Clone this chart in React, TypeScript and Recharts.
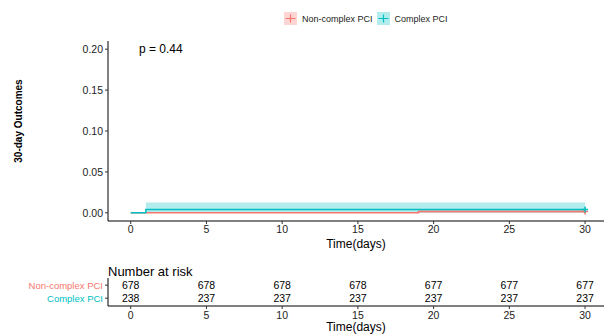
import React from 'react';
import {
  ComposedChart,
  Area,
  Line,
  Scatter,
  LabelList,
  XAxis,
  YAxis,
} from 'recharts';

const RED = '#F8766D';
const TEAL = '#00BFC4';
const FONT = '"Liberation Sans", Arial, sans-serif';

// Kaplan-Meier style step curves (cumulative incidence)
const nonComplexTimes = [0, 19, 30];
const nonComplexEst = [0, 0.0015, 0.0015];
const nonComplexUpper = [0, 0.0045, 0.0045];

const complexTimes = [0, 1, 30];
const complexEst = [0, 0.0042, 0.0042];
const complexUpper = [0, 0.0125, 0.0125];

// number at risk table
const riskTimes = [0, 5, 10, 15, 20, 25, 30];
const nonComplexRisk = [678, 678, 678, 678, 677, 677, 677];
const complexRisk = [238, 237, 237, 237, 237, 237, 237];

const xTicks = [0, 5, 10, 15, 20, 25, 30];
const yTicks = [0, 0.05, 0.1, 0.15, 0.2];
const groups = ['Non-complex PCI', 'Complex PCI'];

const toCurve = (times: number[], est: number[], upper: number[]) =>
  times.map((t, i) => ({ t, y: est[i], ci: [0, upper[i]] }));

const nonComplexData = toCurve(nonComplexTimes, nonComplexEst, nonComplexUpper);
const complexData = toCurve(complexTimes, complexEst, complexUpper);

const nonComplexRows = riskTimes.map((t, i) => ({ t, row: 2, n: nonComplexRisk[i] }));
const complexRows = riskTimes.map((t, i) => ({ t, row: 1, n: complexRisk[i] }));

const censorDot = (color: string, last: number) => (props: any) => {
  const { cx, cy, index } = props;
  if (index !== last) return <g key={`d${index}`} />;
  return (
    <path
      key={`d${index}`}
      d={`M${cx - 3},${cy}H${cx + 3}M${cx},${cy - 3}V${cy + 3}`}
      stroke={color}
      strokeWidth={1.5}
    />
  );
};

const RiskTick = (props: any) => {
  const { x, y, payload } = props;
  const label = payload.value === 2 ? groups[0] : groups[1];
  const color = payload.value === 2 ? RED : TEAL;
  return (
    <text x={x} y={y} dy={3.5} textAnchor="end" fontSize={9.5} fill={color} fontFamily={FONT}>
      {label}
    </text>
  );
};

const LegendIcon = ({ color }: { color: string }) => (
  <svg width={13} height={13} style={{ display: 'block' }}>
    <rect x={0} y={0} width={13} height={13} fill={color} fillOpacity={0.3} />
    <path d="M1.5,6.5H11.5M6.5,2.5V10.5" stroke={color} strokeWidth={1.2} />
  </svg>
);

const axisTick = { fontSize: 10.5, fill: '#222', fontFamily: FONT };

export default function App() {
  return (
    <div
      style={{
        position: 'absolute',
        left: 0,
        top: 0,
        width: 604,
        height: 334,
        background: '#fff',
        fontFamily: FONT,
        overflow: 'hidden',
      }}
    >
      {/* legend */}
      <div
        style={{
          position: 'absolute',
          top: 12,
          left: 284,
          display: 'flex',
          alignItems: 'center',
          fontSize: 9,
          color: '#222',
        }}
      >
        <LegendIcon color={RED} />
        <span style={{ marginLeft: 5, marginRight: 4 }}>{groups[0]}</span>
        <LegendIcon color={TEAL} />
        <span style={{ marginLeft: 5 }}>{groups[1]}</span>
      </div>

      <div style={{ position: 'absolute', top: 0, left: 0 }}>
        <ComposedChart width={604} height={252} margin={{ top: 41, right: 0, left: 10, bottom: 0 }}>
          <XAxis
            type="number"
            dataKey="t"
            domain={[-1.5, 31.25]}
            ticks={xTicks}
            allowDataOverflow
            height={31}
            tick={axisTick}
            tickSize={3}
            tickMargin={2}
            stroke="#000"
            tickLine={{ stroke: '#333' }}
            label={{ value: 'Time(days)', position: 'insideBottom', offset: 4, fontSize: 12, fill: '#000', fontFamily: FONT }}
          />
          <YAxis
            type="number"
            domain={[-0.01, 0.21]}
            ticks={yTicks}
            allowDataOverflow
            width={98}
            tick={axisTick}
            tickSize={3}
            tickMargin={2}
            stroke="#000"
            tickLine={{ stroke: '#333' }}
            tickFormatter={(v: number) => v.toFixed(2)}
            label={{
              content: (p: any) => {
                const vb = p.viewBox;
                const cx = vb.x + 8;
                const cy = vb.y + vb.height / 2 - 10;
                return (
                  <text
                    x={cx}
                    y={cy}
                    transform={`rotate(-90 ${cx} ${cy})`}
                    textAnchor="middle"
                    dominantBaseline="central"
                    fontSize={10}
                    fontWeight="bold"
                    fill="#000"
                    fontFamily={FONT}
                  >
                    30-day Outcomes
                  </text>
                );
              },
            }}
          />
          <Area
            data={complexData}
            dataKey="ci"
            type="stepAfter"
            fill={TEAL}
            fillOpacity={0.3}
            stroke="none"
            isAnimationActive={false}
          />
          <Area
            data={nonComplexData}
            dataKey="ci"
            type="stepAfter"
            fill={RED}
            fillOpacity={0.3}
            stroke="none"
            isAnimationActive={false}
          />
          <Line
            data={nonComplexData}
            dataKey="y"
            type="stepAfter"
            stroke={RED}
            strokeWidth={1.5}
            dot={censorDot(RED, nonComplexData.length - 1)}
            activeDot={false}
            isAnimationActive={false}
          />
          <Line
            data={complexData}
            dataKey="y"
            type="stepAfter"
            stroke={TEAL}
            strokeWidth={1.5}
            dot={censorDot(TEAL, complexData.length - 1)}
            activeDot={false}
            isAnimationActive={false}
          />
        </ComposedChart>
      </div>

      <div style={{ position: 'absolute', top: 42, left: 139, fontSize: 12, color: '#000' }}>p = 0.44</div>

      <div style={{ position: 'absolute', top: 264, left: 108, fontSize: 13, color: '#000' }}>Number at risk</div>

      <div style={{ position: 'absolute', top: 250, left: 0 }}>
        <ComposedChart width={604} height={84} margin={{ top: 28, right: 0, left: 0, bottom: 0 }}>
          <XAxis
            type="number"
            dataKey="t"
            domain={[-1.5, 31.25]}
            ticks={xTicks}
            allowDataOverflow
            height={28}
            tick={axisTick}
            tickSize={3}
            tickMargin={3}
            stroke="#000"
            tickLine={{ stroke: '#333' }}
            label={{ value: 'Time(days)', position: 'insideBottom', offset: 3, fontSize: 12, fill: '#000', fontFamily: FONT }}
          />
          <YAxis
            type="number"
            dataKey="row"
            domain={[0.4, 2.55]}
            ticks={[1, 2]}
            interval={0}
            allowDataOverflow
            width={108}
            tick={<RiskTick />}
            tickSize={3}
            tickMargin={2}
            stroke="#000"
            tickLine={{ stroke: '#333' }}
          />
          <Scatter data={nonComplexRows} dataKey="row" shape={() => <g />} isAnimationActive={false}>
            <LabelList dataKey="n" position="center" fontSize={10.5} fill="#000" fontFamily={FONT} />
          </Scatter>
          <Scatter data={complexRows} dataKey="row" shape={() => <g />} isAnimationActive={false}>
            <LabelList dataKey="n" position="center" fontSize={10.5} fill="#000" fontFamily={FONT} />
          </Scatter>
        </ComposedChart>
      </div>
    </div>
  );
}
